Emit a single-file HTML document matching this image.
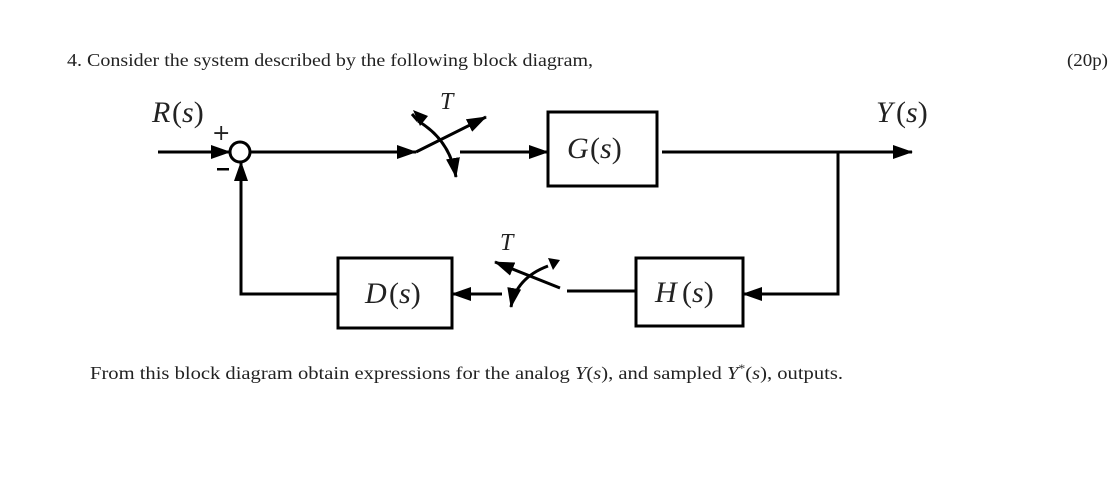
<!DOCTYPE html>
<html><head><meta charset="utf-8"><style>
body{margin:0;background:#fff;}
svg{display:block;}
text{font-family:"Liberation Serif",serif;fill:#222;}
.it{font-style:italic;}
</style></head><body>
<svg width="1115" height="482" viewBox="0 0 1115 482" xmlns="http://www.w3.org/2000/svg">
<defs>
<marker id="a" markerWidth="10" markerHeight="8" refX="9" refY="4" orient="auto" markerUnits="userSpaceOnUse" viewBox="0 0 10 8">
<path d="M0,0 L10,4 L0,8 Z" fill="#000"/></marker>
<marker id="b" markerWidth="20" markerHeight="14" refX="19" refY="7" orient="auto" markerUnits="userSpaceOnUse" viewBox="0 0 20 14">
<path d="M0,0 L20,7 L0,14 Z" fill="#000"/></marker>
</defs>
<text x="67" y="66" font-size="18" textLength="526" lengthAdjust="spacingAndGlyphs">4. Consider the system described by the following block diagram,</text>
<text x="1067" y="66" font-size="18" textLength="41" lengthAdjust="spacingAndGlyphs">(20p)</text>
<text x="90" y="379" font-size="18" textLength="753" lengthAdjust="spacingAndGlyphs">From this block diagram obtain expressions for the analog <tspan class="it">Y</tspan>(<tspan class="it">s</tspan>), and sampled <tspan class="it">Y</tspan><tspan font-size="12" dy="-7">*</tspan><tspan dy="7">(</tspan><tspan class="it">s</tspan>), outputs.</text>

<g stroke="#000" stroke-width="3" fill="none">
<!-- input -->
<line x1="158" y1="152" x2="230" y2="152" marker-end="url(#b)"/>
<circle cx="240" cy="152" r="10"/>
<line x1="250" y1="152" x2="416" y2="152" marker-end="url(#b)"/>
<!-- top switch -->
<line x1="416" y1="152" x2="486" y2="117" marker-end="url(#b)"/>
<path d="M418,121 Q450,140 456,177" marker-end="url(#b)"/>
<path d="M418,121 L412,114" />
<line x1="460" y1="152" x2="548" y2="152" marker-end="url(#b)"/>
<rect x="548" y="112" width="109" height="74"/>
<line x1="662" y1="152" x2="912" y2="152" marker-end="url(#b)"/>
<polyline points="838,152 838,294 743,294" marker-end="url(#b)"/>
<rect x="636" y="258" width="107" height="68"/>
<line x1="636" y1="291" x2="567" y2="291"/>
<!-- bottom switch -->
<line x1="560" y1="288" x2="495" y2="262" marker-end="url(#b)"/>
<path d="M548,266 Q516,278 511,307" marker-end="url(#b)"/>
<line x1="502" y1="294" x2="452" y2="294" marker-end="url(#b)"/>
<rect x="338" y="258" width="114" height="70"/>
<polyline points="338,294 241,294 241,162" marker-end="url(#b)"/>
<!-- top switch arrow heads correction -->
</g>
<path d="M413,110 L428,116 L420,126 Z" fill="#000"/>
<path d="M548,258 L560,260 L553,270 Z" fill="#000"/>
<!-- signs -->
<text x="212" y="140" font-size="22" font-family="DejaVu Sans" style="font-family:'DejaVu Sans',sans-serif">+</text>
<rect x="217" y="168" width="12" height="2.5" fill="#000"/>
<!-- labels -->
<text x="152" y="122" font-size="30" class="it">R</text><text x="172" y="122" font-size="30">(<tspan class="it">s</tspan>)</text>
<text x="876" y="122" font-size="30" class="it">Y</text><text x="896" y="122" font-size="30">(<tspan class="it">s</tspan>)</text>
<text x="440" y="109" font-size="24" class="it">T</text>
<text x="500" y="250" font-size="24" class="it">T</text>
<text x="567" y="158" font-size="30" class="it">G</text><text x="590" y="158" font-size="30">(<tspan class="it">s</tspan>)</text>
<text x="365" y="303" font-size="30" class="it">D</text><text x="389" y="303" font-size="30">(<tspan class="it">s</tspan>)</text>
<text x="655" y="302" font-size="30" class="it">H</text><text x="682" y="302" font-size="30">(<tspan class="it">s</tspan>)</text>
</svg>
</body></html>
